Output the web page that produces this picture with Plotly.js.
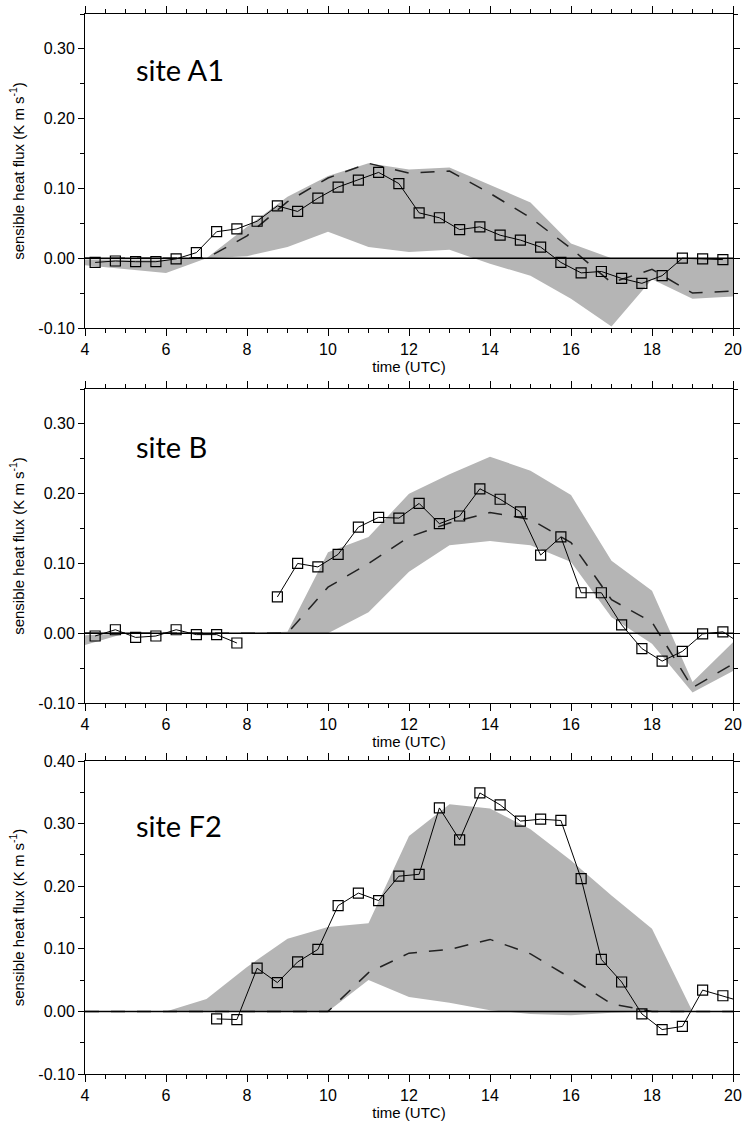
<!DOCTYPE html>
<html>
<head>
<meta charset="utf-8">
<script src="https://cdn.plot.ly/plotly-3.0.1.min.js"></script>
<style>
html,body{margin:0;padding:0;background:#fff;}
#chart{width:742px;height:1122px;}
</style>
</head>
<body>
<div id="chart"></div>
<script>
// ---- data ----
const bandHours = [4,5,6,7,8,9,10,11,12,13,14,15,16,17,18,19,20];
const obsHours = [4.25,4.75,5.25,5.75,6.25,6.75,7.25,7.75,8.25,8.75,9.25,9.75,10.25,10.75,11.25,11.75,
                  12.25,12.75,13.25,13.75,14.25,14.75,15.25,15.75,16.25,16.75,17.25,17.75,18.25,18.75,19.25,19.75,20.25];

const siteNames = ["site A1", "site B", "site F2"];

// site A1
const a1Obs = [-0.006,-0.004,-0.005,-0.005,-0.001,0.008,0.038,0.042,0.053,0.075,0.067,0.086,0.102,0.112,0.123,0.107,
               0.065,0.058,0.041,0.045,0.033,0.026,0.016,-0.006,-0.021,-0.019,-0.029,-0.036,-0.025,0.000,-0.001,-0.002,null];
const a1Lower = [-0.010,-0.015,-0.021,0.000,0.003,0.016,0.038,0.016,0.009,0.012,-0.008,-0.025,-0.058,-0.098,-0.030,-0.058,-0.055];
const a1Upper = [-0.002,-0.002,-0.002,0.000,0.045,0.088,0.118,0.136,0.127,0.130,0.105,0.080,0.021,0.000,0.000,0.000,0.000];
const a1Mean  = [0.000,0.000,0.000,0.000,0.032,0.081,0.115,0.136,0.122,0.125,0.093,0.058,0.014,-0.035,-0.016,-0.050,-0.047];

// site B
const bObs = [-0.004,0.005,-0.006,-0.004,0.005,-0.002,-0.002,-0.014,null,0.052,0.100,0.095,0.113,0.152,0.166,0.165,
              0.186,0.157,0.168,0.207,0.192,0.174,0.112,0.138,0.058,0.058,0.012,-0.022,-0.040,-0.026,-0.001,0.002,-0.017];
const bLower = [-0.017,0.000,0.000,0.000,0.000,0.000,0.000,0.030,0.088,0.126,0.132,0.126,0.102,0.023,-0.015,-0.085,-0.054];
const bUpper = [-0.003,0.000,0.000,0.000,0.000,0.002,0.116,0.138,0.200,0.228,0.253,0.233,0.198,0.104,0.061,-0.070,-0.013];
const bMean  = [0.000,0.000,0.000,0.000,0.000,0.000,0.066,0.100,0.138,0.158,0.173,0.163,0.130,0.048,0.016,-0.078,-0.044];

// site F2
const f2Obs = [null,null,null,null,null,null,-0.012,-0.013,0.069,0.046,0.079,0.099,0.169,0.189,0.177,0.216,
               0.219,0.325,0.274,0.349,0.330,0.304,0.307,0.305,0.212,0.083,0.047,-0.004,-0.029,-0.024,0.034,0.025,0.015];
const f2Lower = [0.000,0.000,0.000,0.000,0.000,0.000,0.000,0.050,0.023,0.014,0.002,-0.004,-0.006,-0.002,0.000,0.000,0.000];
const f2Upper = [0.000,0.000,0.000,0.020,0.071,0.116,0.135,0.141,0.280,0.331,0.324,0.291,0.241,0.185,0.132,0.000,0.000];
const f2Mean  = [0.000,0.000,0.000,0.000,0.000,0.000,0.000,0.062,0.093,0.099,0.115,0.092,0.053,0.012,0.000,0.000,0.000];

// tick labels
const xTickVals = [4,6,8,10,12,14,16,18,20];
const xTickText = ["4","6","8","10","12","14","16","18","20"];
const yTickVals12 = [-0.1,0,0.1,0.2,0.3];
const yTickText12 = ["-0.10","0.00","0.10","0.20","0.30"];
const yTickVals3 = [-0.1,0,0.1,0.2,0.3,0.4];
const yTickText3 = ["-0.10","0.00","0.10","0.20","0.30","0.40"];

const labelY = [0.271, 0.268, 0.297];
const labelX = 5.22;

// ---- build ----
const panels = [
  {obs:a1Obs, lower:a1Lower, upper:a1Upper, mean:a1Mean, range:[-0.1,0.35], tv:yTickVals12, tt:yTickText12},
  {obs:bObs,  lower:bLower,  upper:bUpper,  mean:bMean,  range:[-0.1,0.35], tv:yTickVals12, tt:yTickText12},
  {obs:f2Obs, lower:f2Lower, upper:f2Upper, mean:f2Mean, range:[-0.1,0.40], tv:yTickVals3,  tt:yTickText3}
];

const H = 1122;
const domTop = [14, 389, 761];
const domBot = [328, 703, 1074];

const traces = [];
const layout = {
  width: 742, height: 1122,
  margin: {l: 85, r: 9, t: 0, b: 0},
  paper_bgcolor: '#fff', plot_bgcolor: '#fff',
  showlegend: false,
  font: {family: 'Liberation Sans, Arial, sans-serif', color: '#000'},
  shapes: [], annotations: []
};

panels.forEach((p, i) => {
  const n = i === 0 ? '' : String(i + 1);
  const xa = 'x' + n, ya = 'y' + n;
  const fillColor = 'rgb(181,181,181)';
  traces.push({x: bandHours, y: p.lower, xaxis: xa, yaxis: ya, type: 'scatter', mode: 'lines',
               line: {width: 0, color: fillColor}, hoverinfo: 'skip'});
  traces.push({x: bandHours, y: p.upper, xaxis: xa, yaxis: ya, type: 'scatter', mode: 'lines',
               fill: 'tonexty', fillcolor: fillColor, line: {width: 0, color: fillColor}, hoverinfo: 'skip'});
  traces.push({x: bandHours, y: p.mean, xaxis: xa, yaxis: ya, type: 'scatter', mode: 'lines',
               line: {width: 1.5, color: '#222', dash: '14px,12px'}, hoverinfo: 'skip'});
  traces.push({x: obsHours, y: p.obs, xaxis: xa, yaxis: ya, type: 'scatter', mode: 'lines+markers',
               connectgaps: false, cliponaxis: true,
               line: {width: 1, color: '#000'},
               marker: {symbol: 'square-open', size: 10, color: '#000', line: {width: 1.2, color: '#222'}},
               hoverinfo: 'skip'});

  layout['xaxis' + n] = {
    domain: [0, 1], anchor: ya, range: [4, 20],
    tickvals: xTickVals, ticktext: xTickText,
    ticks: 'outside', ticklen: 7, tickwidth: 1, tickcolor: '#000',
    minor: {dtick: 0.5, tick0: 4, ticks: 'outside', ticklen: 4, tickwidth: 1, tickcolor: '#000', showgrid: false},
    showline: true, linecolor: '#000', linewidth: 1, mirror: 'ticks',
    showgrid: false, zeroline: false,
    tickfont: {size: 16, family: 'Liberation Sans, Arial, sans-serif', color: '#000'},
    title: {text: 'time (UTC)', font: {size: 15, family: 'Liberation Sans, Arial, sans-serif', color: '#000'}, standoff: 2},
    automargin: false, fixedrange: true
  };
  layout['yaxis' + n] = {
    domain: [1 - domBot[i] / H, 1 - domTop[i] / H], anchor: xa, range: p.range,
    tickvals: p.tv, ticktext: p.tt,
    ticks: 'outside', ticklen: 6, tickwidth: 1, tickcolor: '#000',
    minor: {dtick: 0.05, tick0: 0, ticks: 'outside', ticklen: 4, tickwidth: 1, tickcolor: '#000', showgrid: false},
    showline: true, linecolor: '#000', linewidth: 1, mirror: 'ticks',
    showgrid: false, zeroline: false,
    tickfont: {size: 16, family: 'Liberation Sans, Arial, sans-serif', color: '#000'},
    title: {text: 'sensible heat flux (K m s<sup>-1</sup>)', font: {size: 15, family: 'Liberation Sans, Arial, sans-serif', color: '#000'}, standoff: 10},
    automargin: false, fixedrange: true
  };
  layout.shapes.push({type: 'line', xref: xa + ' domain', x0: 0, x1: 1, yref: ya, y0: 0, y1: 0,
                      layer: 'above', line: {color: '#000', width: 1.5}});
  layout.annotations.push({xref: xa, yref: ya, x: labelX, y: labelY[i], xanchor: 'left', yanchor: 'middle',
                           text: siteNames[i], showarrow: false,
                           font: {family: 'Lato, sans-serif', size: 29, color: '#000'}});
});

Plotly.newPlot('chart', traces, layout, {displayModeBar: false, staticPlot: true});
</script>
</body>
</html>
